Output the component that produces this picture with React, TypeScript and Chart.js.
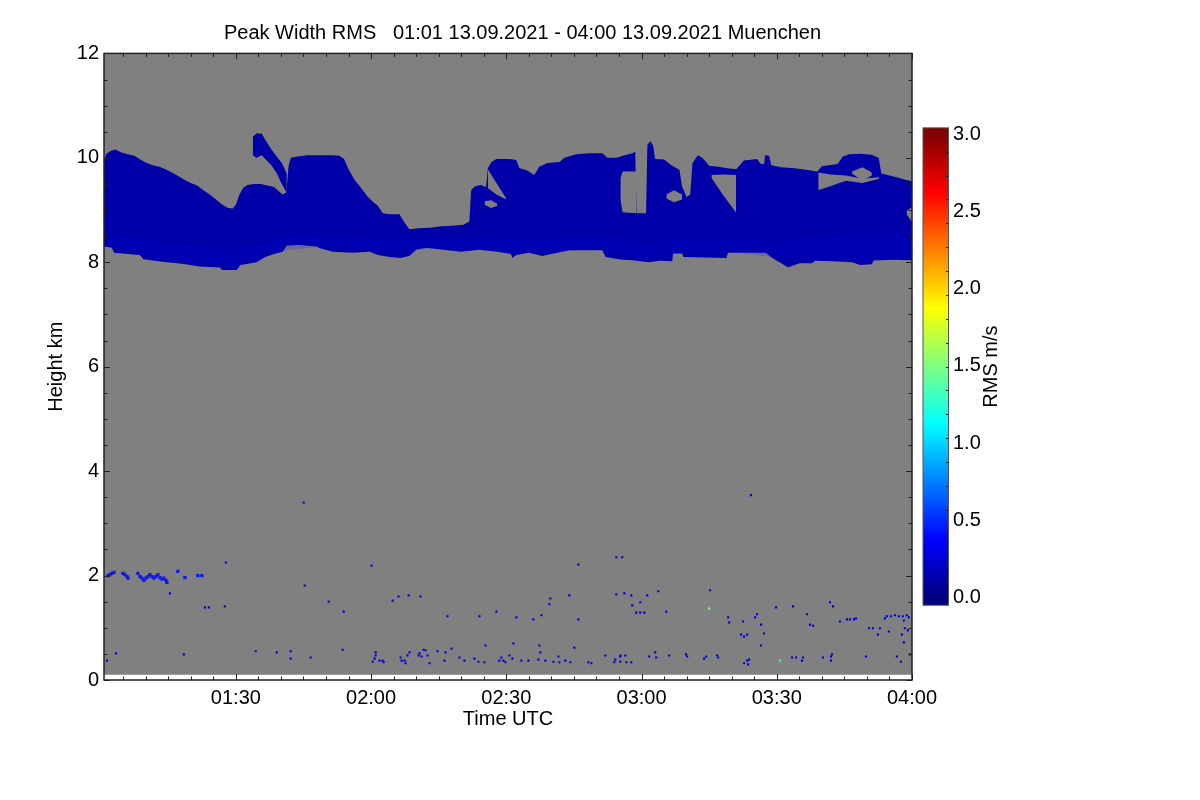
import React, { useEffect, useRef } from 'react';
import { Chart, registerables } from 'chart.js';

Chart.register(...registerables);

// ---------- texts ----------
const TITLE = 'Peak Width RMS   01:01 13.09.2021 - 04:00 13.09.2021 Muenchen';
const X_TITLE = 'Time UTC';
const Y_TITLE = 'Height km';
const CB_TITLE = 'RMS m/s';

// ---------- axes (time in minutes after 00:00 UTC, height in km) ----------
const X_MIN = 60.75;
const X_MAX = 240;
const Y_MIN = 0;
const Y_MAX = 12;
const DATA_BOTTOM = 0.1; // lowest range gate with data
const X_TICKS = [90, 120, 150, 180, 210, 240];
const X_TICK_LABELS = ['01:30', '02:00', '02:30', '03:00', '03:30', '04:00'];
const Y_TICKS = [0, 2, 4, 6, 8, 10, 12];
const CB_TICKS = [0, 0.5, 1, 1.5, 2, 2.5, 3];
const CB_MIN = 0;
const CB_MAX = 3;
const CB_BAR_LOW = -0.05;
const CB_BAR_HIGH = 3.04;

// ---------- cirrus layer (main band) ----------
const BAND_TOP: [number, number][] = [
  [60.75, 9.95], [61.3, 10.08], [62.2, 10.13], [63.3, 10.16], [64.6, 10.1], [66.0, 10.07],
  [67.5, 10.04], [68.8, 9.97], [70.2, 9.9], [71.6, 9.86], [73.0, 9.83], [74.4, 9.78],
  [75.8, 9.72], [77.2, 9.65], [78.6, 9.58], [80.0, 9.52], [81.4, 9.47], [82.8, 9.38],
  [84.2, 9.3], [85.6, 9.2], [87.0, 9.1], [88.3, 9.04], [89.3, 9.03], [90.0, 9.1],
  [90.8, 9.3], [91.6, 9.42], [92.5, 9.48], [94.0, 9.5], [95.5, 9.5], [97.0, 9.47],
  [98.5, 9.44], [99.5, 9.36], [100.4, 9.3], [101.2, 9.34], [101.7, 9.85], [102.2, 10.0],
  [104.0, 10.03], [106.0, 10.05], [108.5, 10.05], [111.0, 10.05], [113.0, 10.04], [114.0, 9.98],
  [115.0, 9.78], [116.3, 9.58], [117.8, 9.42], [119.2, 9.26], [120.5, 9.15], [121.5, 9.08],
  [122.6, 8.94], [124.0, 8.92], [126.3, 8.92], [127.1, 8.8], [128.5, 8.63], [130.5, 8.65],
  [133.0, 8.66], [135.5, 8.69], [138.0, 8.7], [140.5, 8.72], [141.8, 8.78], [142.2, 9.38],
  [143.0, 9.45], [144.3, 9.48], [145.5, 9.44], [145.9, 9.8], [146.7, 9.92], [147.8, 9.98],
  [150.7, 9.98], [152.2, 9.96], [152.9, 9.8], [154.5, 9.76], [156.2, 9.67], [157.3, 9.83],
  [159.1, 9.9], [161.8, 9.92], [162.9, 10.0], [165.5, 10.07], [168.4, 10.09], [171.3, 10.09],
  [172.4, 10.0], [174.4, 10.0], [176.2, 10.05], [178.0, 10.09], [178.6, 10.12], [178.9, 8.94],
  [181.0, 8.94], [181.3, 10.25], [182.0, 10.32], [182.6, 10.22], [183.0, 9.98], [185.0, 9.97],
  [186.6, 9.86], [188.4, 9.77], [189.0, 9.45], [190.0, 9.25], [190.8, 9.3], [191.3, 9.9],
  [192.5, 10.05], [193.5, 10.0], [195.0, 9.85], [197.0, 9.83], [199.0, 9.8], [201.0, 9.78],
  [202.7, 9.95], [205.6, 9.98], [206.5, 9.88], [207.2, 9.88], [207.4, 10.05], [208.3, 10.04],
  [208.8, 9.86], [211.0, 9.82], [214.0, 9.8], [216.5, 9.77], [219.0, 9.74], [220.0, 9.84],
  [223.5, 9.88], [224.6, 10.02], [226.0, 10.07], [228.5, 10.08], [231.0, 10.06], [232.6, 10.0],
  [233.2, 9.7], [235.0, 9.66], [237.0, 9.62], [238.5, 9.58], [240.0, 9.55],
];

const BAND_BOTTOM: [number, number][] = [
  [60.75, 8.3], [62.5, 8.28], [63.0, 8.18], [66.0, 8.16], [68.7, 8.14], [69.5, 8.06],
  [72.0, 8.03], [74.7, 8.0], [78.0, 7.97], [82.0, 7.92], [86.4, 7.9], [87.0, 7.85],
  [90.2, 7.85], [91.0, 7.95], [94.6, 8.0], [96.5, 8.1], [98.5, 8.16], [100.4, 8.2],
  [101.3, 8.32], [104.0, 8.33], [108.0, 8.3], [108.6, 8.27], [111.5, 8.2], [116.0, 8.18],
  [119.7, 8.2], [121.5, 8.14], [124.1, 8.1], [126.5, 8.08], [128.5, 8.12], [130.0, 8.24],
  [132.3, 8.28], [136.0, 8.24], [140.0, 8.2], [144.0, 8.24], [148.0, 8.2], [151.0, 8.16],
  [151.4, 8.08], [152.2, 8.14], [155.0, 8.18], [158.0, 8.12], [160.0, 8.16], [162.4, 8.2],
  [164.0, 8.23], [171.3, 8.23], [172.0, 8.1], [175.7, 8.05], [178.0, 8.04], [181.7, 8.0],
  [184.0, 8.03], [186.8, 8.02], [187.0, 8.17], [189.0, 8.17], [189.3, 8.1], [194.0, 8.09],
  [198.8, 8.08], [199.2, 8.18], [207.6, 8.18], [209.0, 8.08], [211.0, 7.98], [212.5, 7.9],
  [213.4, 7.93], [215.0, 7.98], [217.8, 7.98], [218.5, 8.03], [222.0, 8.02], [226.7, 8.0],
  [228.5, 7.95], [231.1, 7.96], [231.5, 8.04], [236.0, 8.05], [240.0, 8.04],
];

// slightly larger widths in the lower part of the layer
const BRIGHT_BOTTOM: [number, number][] = [
  [60.75, 8.33], [70, 8.12], [80, 8.02], [90, 7.92], [100, 8.22], [110, 8.3], [120, 8.22],
  [130, 8.26], [140, 8.24], [150, 8.22], [160, 8.2], [170, 8.26], [180, 8.06], [190, 8.2],
  [200, 8.2], [210, 8.08], [220, 8.06], [230, 8.0], [240, 8.08],
];
const BRIGHT_TOP: [number, number][] = [
  [60.75, 8.6], [70, 8.45], [80, 8.35], [90, 8.25], [100, 8.5], [110, 8.5], [120, 8.45],
  [130, 8.45], [140, 8.5], [150, 8.45], [160, 8.45], [170, 8.5], [180, 8.4], [190, 8.45],
  [200, 8.45], [210, 8.4], [220, 8.5], [230, 8.6], [240, 8.55],
];

// detached upper fragment around 01:47
const ARM_TOP: [number, number][] = [
  [93.75, 10.4], [94.6, 10.47], [95.75, 10.46], [96.85, 10.3], [97.97, 10.15], [99.1, 10.02], [100.2, 9.9], [101.3, 9.7],
];
const ARM_BOTTOM: [number, number][] = [
  [93.75, 10.05], [94.6, 10.0], [95.75, 10.05], [96.85, 9.95], [97.97, 9.85], [99.1, 9.7], [100.2, 9.5], [101.3, 9.33],
];

// gaps (no signal) inside the layer
const GAP_A_TOP: [number, number][] = [[145.9, 9.78], [147.8, 9.52], [150.0, 9.22]];
const GAP_A_BOTTOM: [number, number][] = [[145.9, 9.42], [147.8, 9.3], [150.0, 9.2]];
const GAP_B_TOP: [number, number][] = [[145.2, 9.17], [146.6, 9.19], [148.0, 9.12]];
const GAP_B_BOTTOM: [number, number][] = [[145.2, 9.1], [146.6, 9.04], [148.0, 9.08]];
const GAP_C_TOP: [number, number][] = [[175.3, 9.6], [175.8, 9.74], [178.9, 9.74]];
const GAP_C_BOTTOM: [number, number][] = [[175.3, 9.2], [175.8, 8.96], [178.9, 8.94]];
const GAP_D_TOP: [number, number][] = [[185.5, 9.3], [187.2, 9.38], [189.0, 9.3]];
const GAP_D_BOTTOM: [number, number][] = [[185.5, 9.22], [187.2, 9.15], [189.0, 9.2]];
const GAP_E_TOP: [number, number][] = [[195.5, 9.67], [198.0, 9.68], [201.0, 9.67]];
const GAP_E_BOTTOM: [number, number][] = [[195.5, 9.62], [198.0, 9.3], [201.0, 8.95]];
const GAP_F_TOP: [number, number][] = [[219.2, 9.72], [222.0, 9.68], [225.3, 9.66], [229.0, 9.6], [232.7, 9.63]];
const GAP_F_BOTTOM: [number, number][] = [[219.2, 9.38], [222.0, 9.46], [225.3, 9.56], [229.0, 9.52], [232.7, 9.6]];
const GAP_G_TOP: [number, number][] = [[226.7, 9.74], [229.0, 9.82], [231.1, 9.72]];
const GAP_G_BOTTOM: [number, number][] = [[226.7, 9.7], [229.0, 9.56], [231.1, 9.66]];
const GAP_H_TOP: [number, number][] = [[238.8, 8.98], [240.0, 9.06]];
const GAP_H_BOTTOM: [number, number][] = [[238.8, 8.92], [240.0, 8.77]];

// low-level echoes: layer near 2 km at the start
const DOTS_LAYER: [number, number][] = [
  [61.64, 2.0], [62.08, 2.02], [62.52, 2.04], [62.97, 2.06], [64.96, 2.04], [65.4, 2.02],
  [65.85, 1.98], [66.07, 1.95], [68.28, 2.04], [68.73, 1.98], [69.17, 1.95], [69.61, 1.91],
  [70.05, 1.95], [70.5, 1.98], [70.94, 2.02], [71.38, 1.98], [71.83, 1.95], [72.27, 1.98],
  [72.71, 2.02], [73.16, 1.96], [73.6, 1.93], [74.04, 1.95], [74.48, 1.91], [74.71, 1.87],
  [77.14, 2.08], [78.69, 1.96], [81.57, 2.0], [82.46, 2.0],
];

// scattered low-level echoes
const DOTS_SCATTER: [number, number][] = [
  [75.37, 1.66], [83.12, 1.39], [84.01, 1.39], [87.55, 1.41], [87.78, 2.25], [105.28, 1.81],
  [110.59, 1.5], [105.05, 3.4], [61.41, 0.37], [63.41, 0.51], [78.47, 0.49], [94.42, 0.55],
  [99.07, 0.53], [102.17, 0.55], [102.17, 0.41], [106.6, 0.43],
  [120.12, 2.19], [113.92, 1.31], [113.69, 0.58], [124.77, 1.52], [126.1, 1.6], [128.32, 1.62],
  [130.97, 1.6], [136.95, 1.22], [144.04, 1.22], [147.81, 1.31], [152.24, 1.2], [156.0, 1.16],
  [157.78, 1.24], [159.55, 1.45], [159.77, 1.56], [163.98, 1.62], [165.98, 1.16], [165.98, 2.21],
  [174.4, 2.35], [174.4, 1.64], [176.17, 1.66],
  [121.01, 0.53], [121.01, 0.47], [120.79, 0.41], [120.34, 0.35], [121.89, 0.37], [122.56, 0.37],
  [122.78, 0.34], [126.54, 0.43], [126.77, 0.37], [127.43, 0.37], [127.65, 0.32], [128.09, 0.47],
  [128.54, 0.53], [130.53, 0.47], [130.75, 0.51], [131.2, 0.45], [131.64, 0.58], [132.08, 0.57],
  [132.53, 0.47], [132.97, 0.32], [134.74, 0.55], [136.29, 0.37], [136.51, 0.53], [137.84, 0.6],
  [139.61, 0.43], [140.72, 0.37], [142.94, 0.41], [143.82, 0.35], [145.37, 0.66], [145.15, 0.34],
  [148.47, 0.37], [148.92, 0.43], [149.36, 0.37], [149.8, 0.34], [150.69, 0.47], [151.35, 0.41],
  [151.58, 0.7], [153.35, 0.37], [154.9, 0.37], [157.11, 0.39], [157.34, 0.66], [157.56, 0.53],
  [158.67, 0.37], [160.44, 0.35], [161.55, 0.45], [161.77, 0.34], [163.1, 0.37], [164.2, 0.34],
  [165.09, 0.62], [168.19, 0.34], [168.86, 0.32], [171.96, 0.47], [173.95, 0.34], [174.17, 0.39],
  [175.28, 0.47], [176.39, 0.47],
  [204.3, 3.54], [175.72, 2.35], [177.72, 1.62], [177.94, 1.43], [179.71, 1.49], [178.83, 1.29],
  [179.71, 1.29], [180.6, 1.29], [181.26, 1.62], [183.7, 1.7], [185.47, 1.31], [195.22, 1.72],
  [199.21, 1.2], [199.43, 1.1], [202.53, 1.12], [205.19, 1.2], [205.63, 1.26], [206.52, 1.06],
  [202.09, 0.87], [202.75, 0.83], [203.42, 0.87], [207.18, 0.89], [206.52, 0.66], [209.84, 1.39],
  [213.61, 1.41], [216.71, 1.26], [217.37, 1.06], [218.04, 1.04], [221.8, 1.49], [222.47, 1.41],
  [224.02, 1.12], [225.57, 1.16], [226.23, 1.16], [227.12, 1.16], [227.56, 1.18], [230.44, 0.99],
  [231.33, 0.99], [232.88, 0.99], [232.44, 0.87], [234.87, 0.93], [233.99, 1.18], [234.43, 1.22],
  [235.32, 1.22], [236.2, 1.24], [237.09, 1.22], [237.97, 1.22], [238.86, 1.24], [239.3, 1.2],
  [238.19, 1.14], [238.42, 0.99], [237.75, 0.87], [239.08, 0.95], [238.19, 0.72],
  [175.28, 0.45], [175.28, 0.35], [176.61, 0.34], [177.72, 0.34], [181.7, 0.45], [183.03, 0.53],
  [183.25, 0.43], [186.13, 0.47], [189.89, 0.49], [190.12, 0.45], [193.89, 0.41], [194.33, 0.45],
  [196.77, 0.47], [196.99, 0.43], [202.75, 0.32], [203.64, 0.3], [203.42, 0.37], [203.86, 0.39],
  [213.39, 0.43], [214.27, 0.43], [215.6, 0.37], [215.82, 0.43], [220.25, 0.43], [222.02, 0.37],
  [222.02, 0.45], [222.25, 0.49], [229.78, 0.45], [236.64, 0.45], [237.53, 0.35], [239.52, 0.49],
];
const DOTS_GREEN: [number, number][] = [[195.0, 1.37]];
const DOTS_CYAN: [number, number][] = [[210.73, 0.37]];

// ---------- styles ----------
const FONT = "'Liberation Sans', Arial, Helvetica, sans-serif";
const BG_GREY = '#808080';
const BAND_COLOR = 'rgb(0,0,168)';
const BRIGHT_COLOR = 'rgba(0,0,235,0.16)';
const FRAME_COLOR = '#222222';

function jet(f: number): string {
  const t = Math.max(0, Math.min(1, f));
  const c = (v: number) => Math.round(255 * Math.max(0, Math.min(1, v)));
  const r = c(Math.min(4 * t - 1.5, -4 * t + 4.5));
  const g = c(Math.min(4 * t - 0.5, -4 * t + 3.5));
  const b = c(Math.min(4 * t + 0.5, -4 * t + 2.5));
  return `rgb(${r},${g},${b})`;
}

const toXY = (arr: [number, number][]) => arr.map(([x, y]) => ({ x, y }));

function buildDatasets() {
  const ds: any[] = [];
  const addArea = (bottom: [number, number][], top: [number, number][], color: string, order: number) => {
    ds.push({
      type: 'line', data: toXY(bottom), borderWidth: 0, borderColor: 'rgba(0,0,0,0)',
      pointRadius: 0, pointHoverRadius: 0, fill: false, order, tension: 0,
    });
    ds.push({
      type: 'line', data: toXY(top), borderWidth: 0, borderColor: 'rgba(0,0,0,0)',
      pointRadius: 0, pointHoverRadius: 0, fill: '-1', backgroundColor: color, order, tension: 0,
    });
  };
  addArea(BAND_BOTTOM, BAND_TOP, BAND_COLOR, 5);
  addArea(BRIGHT_BOTTOM, BRIGHT_TOP, BRIGHT_COLOR, 4);
  addArea(ARM_BOTTOM, ARM_TOP, BAND_COLOR, 3);
  const gaps: [[number, number][], [number, number][]][] = [
    [GAP_A_BOTTOM, GAP_A_TOP], [GAP_B_BOTTOM, GAP_B_TOP], [GAP_C_BOTTOM, GAP_C_TOP],
    [GAP_D_BOTTOM, GAP_D_TOP], [GAP_E_BOTTOM, GAP_E_TOP], [GAP_F_BOTTOM, GAP_F_TOP],
    [GAP_G_BOTTOM, GAP_G_TOP], [GAP_H_BOTTOM, GAP_H_TOP],
  ];
  gaps.forEach(([b, t]) => addArea(b, t, BG_GREY, 2));
  const dots = (data: [number, number][], color: string, r: number) => ({
    type: 'scatter', data: toXY(data), showLine: false, pointStyle: 'rect',
    pointRadius: r, pointHoverRadius: r, pointBackgroundColor: color, pointBorderWidth: 0,
    backgroundColor: color, borderColor: color, order: 0,
  });
  ds.push(dots(DOTS_LAYER, 'rgb(16,24,232)', 2.3));
  ds.push(dots(DOTS_SCATTER, 'rgb(0,0,222)', 1.5));
  ds.push(dots(DOTS_GREEN, jet(0.5), 1.5));
  ds.push(dots(DOTS_CYAN, jet(0.4), 1.5));
  return ds;
}

const idlPlugin = {
  id: 'idlFrame',
  beforeDatasetsDraw(chart: any) {
    const { ctx, scales } = chart;
    const x = scales.x, y = scales.y;
    const l = x.getPixelForValue(X_MIN), r = x.getPixelForValue(X_MAX);
    const t = y.getPixelForValue(Y_MAX), b = y.getPixelForValue(DATA_BOTTOM);
    ctx.save();
    ctx.fillStyle = BG_GREY;
    ctx.fillRect(l, t, r - l, b - t);
    ctx.restore();
  },
  afterDraw(chart: any) {
    const { ctx, chartArea: a, scales } = chart;
    const x = scales.x, y = scales.y, cb = scales.cb;
    ctx.save();
    // minor / major ticks pointing inward on all four sides
    ctx.strokeStyle = FRAME_COLOR;
    ctx.lineWidth = 1;
    ctx.beginPath();
    for (let v = Math.ceil(X_MIN / 5) * 5; v <= X_MAX; v += 5) {
      const px = Math.round(x.getPixelForValue(v)) + 0.5;
      const len = v % 30 === 0 ? 6 : 3.5;
      ctx.moveTo(px, a.bottom); ctx.lineTo(px, a.bottom - len);
      ctx.moveTo(px, a.top); ctx.lineTo(px, a.top + len);
    }
    for (let v = Y_MIN; v <= Y_MAX + 1e-9; v += 0.5) {
      const py = Math.round(y.getPixelForValue(v)) + 0.5;
      const len = Math.abs(v % 2) < 1e-9 ? 6 : 3.5;
      ctx.moveTo(a.left, py); ctx.lineTo(a.left + len, py);
      ctx.moveTo(a.right, py); ctx.lineTo(a.right - len, py);
    }
    ctx.stroke();
    ctx.lineWidth = 1.5;
    ctx.strokeRect(a.left, a.top, a.right - a.left, a.bottom - a.top);

    // colour bar
    const bx = cb.left + 11;
    const bw = 25.5;
    const yTop = cb.getPixelForValue(CB_BAR_HIGH);
    const yBot = cb.getPixelForValue(CB_BAR_LOW);
    const grad = ctx.createLinearGradient(0, yBot, 0, yTop);
    const n = 90;
    for (let i = 0; i <= n; i++) {
      const v = CB_BAR_LOW + ((CB_BAR_HIGH - CB_BAR_LOW) * i) / n;
      grad.addColorStop(i / n, jet((v - CB_MIN) / (CB_MAX - CB_MIN)));
    }
    ctx.fillStyle = grad;
    ctx.fillRect(bx, yTop, bw, yBot - yTop);
    ctx.strokeStyle = '#555555';
    ctx.lineWidth = 1;
    ctx.strokeRect(bx, yTop, bw, yBot - yTop);
    ctx.beginPath();
    for (let k = 1; k < 20; k++) {
      const py = Math.round(yTop + ((yBot - yTop) * k) / 20) + 0.5;
      ctx.moveTo(bx + bw, py); ctx.lineTo(bx + bw - 2.5, py);
    }
    ctx.strokeStyle = '#222222';
    ctx.stroke();

    // colour bar title
    ctx.translate(cb.left + 79, (yTop + yBot) / 2);
    ctx.rotate(-Math.PI / 2);
    ctx.fillStyle = '#000000';
    ctx.font = `20px ${FONT}`;
    ctx.textAlign = 'center';
    ctx.textBaseline = 'middle';
    ctx.fillText(CB_TITLE, 0, 0);
    ctx.restore();
  },
};

export default function App() {
  const ref = useRef<HTMLCanvasElement>(null);
  useEffect(() => {
    const canvas = ref.current;
    if (!canvas) return;
    const font = { family: FONT, size: 20 };
    const chart = new Chart(canvas, {
      type: 'line',
      data: { datasets: buildDatasets() },
      options: {
        responsive: false,
        maintainAspectRatio: false,
        animation: false,
        events: [],
        layout: { padding: { left: 0, top: 0, right: 155, bottom: 0 } },
        plugins: {
          legend: { display: false },
          tooltip: { enabled: false },
          title: {
            display: true,
            text: TITLE,
            color: '#000',
            font: { family: FONT, size: 20, weight: 'normal' },
            padding: { top: 21, bottom: 8.4 },
          },
          filler: { propagate: false },
        },
        scales: {
          x: {
            type: 'linear',
            position: 'bottom',
            min: X_MIN,
            max: X_MAX,
            grid: { display: false, drawTicks: false },
            border: { display: false },
            afterBuildTicks: (s: any) => { s.ticks = X_TICKS.map((v) => ({ value: v })); },
            afterFit: (s: any) => { s.height = 120; },
            ticks: {
              color: '#000', font, padding: 6, autoSkip: false, maxRotation: 0, minRotation: 0,
              callback: (v: any) => { const i = X_TICKS.indexOf(Number(v)); return i >= 0 ? X_TICK_LABELS[i] : ''; },
            },
            title: { display: true, text: X_TITLE, color: '#000', font, padding: { top: 0, bottom: 69 } },
          },
          y: {
            type: 'linear',
            position: 'left',
            min: Y_MIN,
            max: Y_MAX,
            grid: { display: false, drawTicks: false },
            border: { display: false },
            afterBuildTicks: (s: any) => { s.ticks = Y_TICKS.map((v) => ({ value: v })); },
            afterFit: (s: any) => { s.width = 104; },
            ticks: { color: '#000', font, padding: 5, callback: (v: any) => String(v) },
            title: { display: true, text: Y_TITLE, color: '#000', font, padding: { top: 44, bottom: 0 } },
          },
          cb: {
            type: 'linear',
            axis: 'y',
            position: 'right',
            min: -0.534,
            max: 3.522,
            grid: { display: false, drawTicks: false },
            border: { display: false },
            afterBuildTicks: (s: any) => { s.ticks = CB_TICKS.map((v) => ({ value: v })); },
            afterFit: (s: any) => { s.width = 133; },
            ticks: { color: '#000', font, padding: 41, callback: (v: any) => Number(v).toFixed(1) },
          },
        },
      } as any,
      plugins: [idlPlugin],
    });
    return () => chart.destroy();
  }, []);
  return (
    <div style={{ position: 'fixed', left: 0, top: 0, width: 1200, height: 800, background: '#ffffff' }}>
      <canvas ref={ref} width={1200} height={800} style={{ display: 'block', width: 1200, height: 800 }} />
    </div>
  );
}
